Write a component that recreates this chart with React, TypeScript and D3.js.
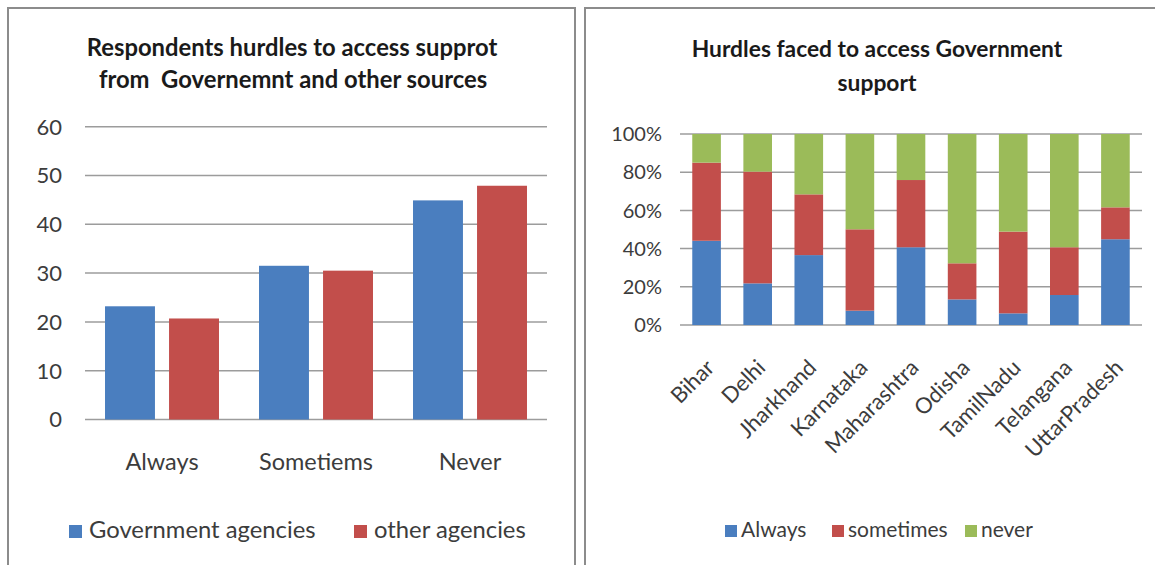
import React from "react";
import * as d3 from "d3";

// Left chart: respondents hurdles by source of support
const hurdleLevels = ["Always", "Sometiems", "Never"];
const agencySeries = ["Government agencies", "other agencies"];
const governmentValues = [23.2, 31.5, 44.9];
const otherValues = [20.7, 30.5, 47.9];
const countTicks = [0, 10, 20, 30, 40, 50, 60];

// Right chart: share of hurdle frequency by state
const states = [
  "Bihar",
  "Delhi",
  "Jharkhand",
  "Karnataka",
  "Maharashtra",
  "Odisha",
  "TamilNadu",
  "Telangana",
  "UttarPradesh",
];
const alwaysShare = [44.1, 21.8, 36.6, 7.5, 40.7, 13.4, 6.1, 15.7, 44.9];
const sometimesShare = [40.9, 58.5, 31.8, 42.6, 35.2, 18.9, 42.8, 25.0, 16.7];
const neverShare = [15.0, 19.7, 31.6, 49.9, 24.1, 67.7, 51.1, 59.3, 38.4];
const frequencyKeys = ["Always", "sometimes", "never"];
const shareTicks = [0, 0.2, 0.4, 0.6, 0.8, 1];

const BLUE = "#4a7ebf";
const RED = "#c24e4b";
const GREEN = "#9bbb59";
const GRID = "#9c9c9c";
const LABEL = "#3c3c3c";
const FONT = "Lato, 'Open Sans', sans-serif";

function AgencyChart() {
  const y = d3.scaleLinear().domain([0, 60]).range([419.5, 126.7]);
  const x0 = d3.scaleBand<string>().domain(hurdleLevels).range([85, 547]);
  const x1 = d3
    .scaleBand<string>()
    .domain(agencySeries)
    .range([0, x0.bandwidth()])
    .paddingInner(0.22)
    .paddingOuter(0.3125);
  const colors = d3.scaleOrdinal<string, string>().domain(agencySeries).range([BLUE, RED]);
  const rows = hurdleLevels.map((level, i) => ({
    level,
    values: [governmentValues[i], otherValues[i]],
  }));
  const [gx0, gx1] = x0.range();

  return (
    <g>
      <rect x={8} y={8} width={567} height={575} fill="#fff" stroke="#8c8c8c" strokeWidth={2} />
      <text
        textAnchor="middle"
        fontFamily={FONT}
        fontWeight="bold"
        fontSize={23.8}
        fill="#1a1a1a"
        style={{ whiteSpace: "pre" }}
      >
        <tspan x={292} y={56}>Respondents hurdles to access supprot</tspan>
        <tspan x={293} y={88}>{"from  Governemnt and other sources"}</tspan>
      </text>
      {countTicks.map((t) => (
        <g key={t}>
          <line x1={gx0} x2={gx1} y1={y(t)} y2={y(t)} stroke={GRID} strokeWidth={1.5} />
          <text
            x={62}
            y={y(t)}
            dy="0.36em"
            textAnchor="end"
            fontFamily={FONT}
            fontSize={22}
            fill={LABEL}
          >
            {t}
          </text>
        </g>
      ))}
      {rows.map((row) => (
        <g key={row.level} transform={`translate(${x0(row.level)},0)`}>
          {agencySeries.map((s, j) => (
            <rect
              key={s}
              x={x1(s)}
              y={y(row.values[j])}
              width={x1.bandwidth()}
              height={y(0) - y(row.values[j])}
              fill={colors(s)}
            />
          ))}
          <text
            x={x0.bandwidth() / 2}
            y={470}
            textAnchor="middle"
            fontFamily={FONT}
            fontSize={23.5}
            fill={LABEL}
          >
            {row.level}
          </text>
        </g>
      ))}
      {agencySeries.map((s, i) => {
        const lx = [69, 354][i];
        return (
          <g key={s}>
            <rect x={lx} y={525} width={13} height={13} fill={colors(s)} />
            <text x={lx + 20} y={538} fontFamily={FONT} fontSize={23.8} fill={LABEL}>
              {s}
            </text>
          </g>
        );
      })}
    </g>
  );
}

function StateChart() {
  const table = states.map((state, i) => ({
    state,
    Always: alwaysShare[i],
    sometimes: sometimesShare[i],
    never: neverShare[i],
  }));
  const stacked = d3.stack<any>().keys(frequencyKeys).offset(d3.stackOffsetExpand)(table);
  const x = d3
    .scaleBand<string>()
    .domain(states)
    .range([680, 1142])
    .paddingInner(0.44)
    .paddingOuter(0.24);
  const y = d3.scaleLinear().domain([0, 1]).range([325, 134]);
  const colors = d3
    .scaleOrdinal<string, string>()
    .domain(frequencyKeys)
    .range([BLUE, RED, GREEN]);
  const fmt = d3.format(".0%");
  const [gx0, gx1] = x.range();
  const legendX = [725, 832, 965];

  return (
    <g>
      <rect x={585} y={8} width={600} height={575} fill="#fff" stroke="#8c8c8c" strokeWidth={2} />
      <text textAnchor="middle" fontFamily={FONT} fontWeight="bold" fontSize={22.8} fill="#1a1a1a">
        <tspan x={877} y={56.5}>Hurdles faced to access Government</tspan>
        <tspan x={877} y={90.5}>support</tspan>
      </text>
      {shareTicks.map((t) => (
        <g key={t}>
          <line x1={gx0} x2={gx1} y1={y(t)} y2={y(t)} stroke={GRID} strokeWidth={1.5} />
          <text
            x={662}
            y={y(t)}
            dy="0.36em"
            textAnchor="end"
            fontFamily={FONT}
            fontSize={20}
            fill={LABEL}
          >
            {fmt(t)}
          </text>
        </g>
      ))}
      {stacked.map((layer) => (
        <g key={layer.key} fill={colors(layer.key)}>
          {layer.map((d) => (
            <rect
              key={d.data.state}
              x={x(d.data.state)}
              y={y(d[1])}
              width={x.bandwidth()}
              height={y(d[0]) - y(d[1])}
            />
          ))}
        </g>
      ))}
      {states.map((s) => {
        const cx = (x(s) as number) + x.bandwidth() / 2 - 2;
        return (
          <text
            key={s}
            transform={`translate(${cx},358) rotate(-45)`}
            dy="0.71em"
            textAnchor="end"
            fontFamily={FONT}
            fontSize={22}
            fill={LABEL}
          >
            {s}
          </text>
        );
      })}
      {frequencyKeys.map((k, i) => (
        <g key={k}>
          <rect x={legendX[i]} y={525} width={12} height={12} fill={colors(k)} />
          <text x={legendX[i] + 16} y={537} fontFamily={FONT} fontSize={21} fill={LABEL}>
            {k}
          </text>
        </g>
      ))}
    </g>
  );
}

export default function App() {
  return (
    <div style={{ position: "absolute", left: 0, top: 0 }}>
      <svg width={1155} height={565} style={{ display: "block", background: "#fff" }}>
        <AgencyChart />
        <StateChart />
      </svg>
    </div>
  );
}
